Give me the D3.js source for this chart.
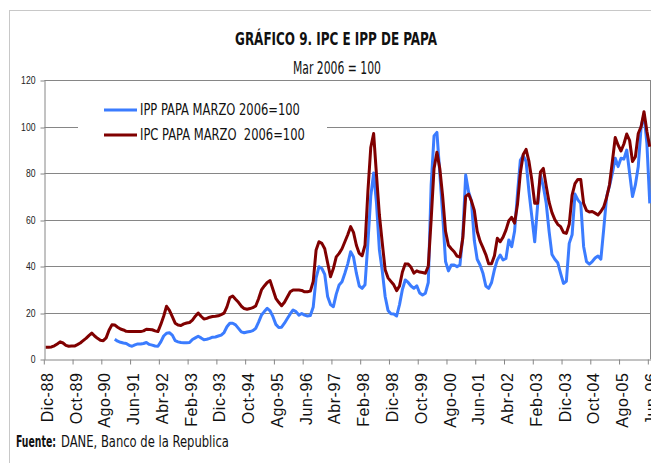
<!DOCTYPE html>
<html>
<head>
<meta charset="utf-8">
<script src="https://cdn.jsdelivr.net/npm/d3@7"></script>
<style>
  body { margin: 0; background: #fff; }
</style>
</head>
<body>
<script>
// months start at Dic-88
const startYear = 1988;
const startMonth = 11;
const monthNames = ['Ene', 'Feb', 'Mar', 'Abr', 'May', 'Jun', 'Jul', 'Ago', 'Sep', 'Oct', 'Nov', 'Dic'];

// IPC papa (Mar 2006 = 100), one value per month
const ipc = [
  5.2,
  5.2, 5.3, 5.8, 6.6, 7.5, 7.0, 6.0, 5.6, 5.7, 5.7, 6.3, 7.0,            // 1989
  8.0, 9.0, 10.2, 11.3, 10.0, 9.0, 8.2, 8.0, 9.2, 12.5, 14.8, 14.7,       // 1990
  13.8, 13.0, 12.6, 12.0, 11.9, 11.9, 11.9, 11.9, 11.9, 12.2, 12.9, 12.8, // 1991
  12.7, 12.2, 11.9, 15.0, 18.5, 22.8, 21.0, 18.3, 15.5, 14.7, 14.5, 15.2, // 1992
  15.6, 15.8, 16.8, 18.5, 19.9, 18.5, 17.3, 17.6, 18.1, 18.4, 18.5, 18.7, // 1993
  19.2, 19.8, 22.5, 26.5, 27.2, 25.8, 24.5, 22.8, 21.8, 21.5, 21.8, 22.2, // 1994
  22.9, 26.0, 29.8, 31.5, 33.0, 33.8, 30.0, 26.2, 24.5, 23.0, 24.5, 26.8, // 1995
  29.0, 29.8, 29.8, 29.8, 29.6, 29.0, 29.0, 29.3, 33.5, 47.0, 50.5, 49.8, // 1996
  47.5, 41.5, 35.5, 39.0, 44.0, 45.5, 47.5, 50.5, 53.5, 57.0, 54.5, 49.0, // 1997
  45.5, 44.5, 49.0, 72.0, 91.0, 97.0, 79.0, 62.0, 50.0, 38.5, 35.0, 33.5, // 1998
  32.0, 29.5, 31.5, 37.5, 41.0, 40.9, 39.5, 37.0, 38.0, 37.5, 37.3, 37.0, // 1999
  40.0, 60.0, 82.0, 89.0, 82.0, 70.0, 55.0, 49.0, 47.5, 46.2, 44.3, 43.9, // 2000
  52.0, 70.0, 71.0, 68.0, 64.0, 55.0, 50.8, 48.0, 45.0, 41.0, 41.0, 44.5, // 2001
  52.0, 50.5, 52.5, 55.5, 59.5, 61.0, 58.5, 66.5, 80.0, 88.0, 90.2, 85.0, // 2002
  77.0, 67.0, 67.0, 80.5, 82.0, 74.5, 67.5, 63.0, 60.0, 58.0, 57.0, 54.5, // 2003
  54.1, 58.0, 70.5, 75.5, 77.3, 77.3, 67.0, 64.0, 63.3, 63.5, 62.8, 62.0, // 2004
  63.5, 65.5, 69.5, 75.0, 85.0, 95.3, 92.0, 89.5, 92.5, 96.8, 94.0, 85.0, // 2005
  87.0, 97.0, 100.0, 106.4, 98.0, 91.3                                    // 2006
];

// IPP papa (Mar 2006 = 100), starts Dic-90
const ipp = Array(24).fill(null).concat([
  8.6,
  7.8, 7.3, 7.0, 6.8, 6.0, 5.6, 6.2, 6.6, 6.6, 6.8, 7.2, 6.4,             // 1991
  6.1, 5.7, 5.6, 7.5, 10.0, 11.2, 11.4, 10.4, 8.0, 7.5, 7.2, 7.1,         // 1992
  7.1, 7.2, 8.5, 9.2, 9.9, 9.2, 8.4, 8.6, 9.0, 9.5, 9.6, 10.0,            // 1993
  10.4, 11.5, 14.0, 15.5, 15.5, 14.8, 13.3, 11.8, 11.4, 11.7, 11.9, 12.3, // 1994
  13.3, 16.0, 19.0, 20.5, 21.9, 20.8, 18.3, 15.0, 13.7, 13.8, 15.5, 17.5, // 1995
  19.5, 21.2, 20.5, 19.0, 19.7, 19.0, 18.6, 18.8, 22.5, 35.0, 39.8, 39.0, // 1996
  36.5, 27.0, 23.5, 22.6, 28.0, 31.9, 33.3, 37.0, 41.0, 46.2, 44.0, 37.0, // 1997
  31.5, 30.5, 32.0, 50.0, 70.0, 80.0, 67.0, 47.0, 38.0, 27.0, 21.0, 19.6, // 1998
  19.5, 18.6, 23.5, 30.0, 34.1, 33.0, 31.5, 30.5, 31.6, 28.5, 27.6, 28.4, // 1999
  33.0, 75.0, 96.0, 97.5, 80.0, 62.0, 42.0, 38.0, 40.5, 40.5, 39.8, 40.5, // 2000
  53.0, 79.2, 72.0, 68.0, 51.0, 43.0, 40.5, 37.0, 31.5, 30.5, 33.0, 38.5, // 2001
  42.7, 44.8, 42.7, 43.3, 51.3, 48.4, 55.0, 71.0, 85.5, 87.5, 85.0, 72.0, // 2002
  61.3, 50.5, 66.0, 79.2, 74.2, 67.0, 55.0, 45.0, 43.0, 41.5, 36.9, 32.6, // 2003
  33.5, 49.8, 53.5, 71.0, 68.5, 67.0, 48.5, 42.0, 40.9, 42.0, 43.5, 44.4, // 2004
  43.0, 56.0, 69.9, 74.5, 80.0, 86.4, 82.8, 86.4, 86.0, 89.9, 79.9, 69.9, // 2005
  74.9, 82.8, 100.0, 105.0, 92.8, 67.0                                    // 2006
]);

const tickLabels = ['Dic-88', 'Oct-89', 'Ago-90', 'Jun-91', 'Abr-92', 'Feb-93', 'Dic-93', 'Oct-94',
  'Ago-95', 'Jun-96', 'Abr-97', 'Feb-98', 'Dic-98', 'Oct-99', 'Ago-00', 'Jun-01', 'Abr-02',
  'Feb-03', 'Dic-03', 'Oct-04', 'Ago-05', 'Jun-06'];
const yTicks = [0, 20, 40, 60, 80, 100, 120];

const seriesNames = ['IPP PAPA MARZO 2006=100', 'IPC PAPA MARZO  2006=100'];

const categories = ipc.map((d, i) => {
  const m = (startMonth + i) % 12;
  const yr = startYear + Math.floor((startMonth + i) / 12);
  return monthNames[m] + '-' + String(yr % 100).padStart(2, '0');
});

// canvas
const width = 651;
const height = 463;
const narrow = "'Liberation Sans Narrow','Arial Narrow','DejaVu Sans Condensed','Liberation Sans',sans-serif";
const plain = "'Liberation Sans',Arial,sans-serif";
const gridColor = '#868686';

const svg = d3.select('body').append('svg')
  .attr('width', width)
  .attr('height', height)
  .style('display', 'block');

// squeeze a text horizontally to a given width, around its anchor x
const fitWidth = (sel, w) => {
  sel.each(function () {
    const node = this;
    const natural = node.getComputedTextLength();
    if (!natural) return;
    const ax = +node.getAttribute('x') || 0;
    const s = w / natural;
    node.setAttribute('transform', `translate(${ax},0) scale(${s},1) translate(${-ax},0)`);
  });
};

// outer frame
svg.append('rect')
  .attr('x', 9.5).attr('y', 10.5)
  .attr('width', 700).attr('height', 500)
  .attr('fill', '#fff')
  .attr('stroke', '#c8c8c8');

const plot = { left: 44.3, right: 651.2, top: 80, bottom: 359.3 };

const x = d3.scaleBand()
  .domain(categories)
  .range([plot.left, plot.right])
  .paddingInner(0)
  .paddingOuter(0);
const bw = x.bandwidth();

const y = d3.scaleLinear()
  .domain([0, 120])
  .range([plot.bottom, plot.top]);

// gridlines
svg.append('g')
  .selectAll('line')
  .data(yTicks.slice(1))
  .enter()
  .append('line')
  .attr('x1', plot.left)
  .attr('x2', 650.5)
  .attr('y1', (d) => Math.round(y(d)) + 0.5)
  .attr('y2', (d) => Math.round(y(d)) + 0.5)
  .attr('stroke', gridColor)
  .attr('stroke-width', 1);

// right border of plot area
svg.append('line')
  .attr('x1', 650.5).attr('x2', 650.5)
  .attr('y1', y(120)).attr('y2', y(0))
  .attr('stroke', gridColor);

// y axis
const yAxis = svg.append('g')
  .attr('transform', `translate(${Math.round(plot.left) + 0.5},0)`)
  .call(d3.axisLeft(y).tickValues(yTicks).tickSize(4).tickSizeOuter(0));
yAxis.select('.domain').attr('stroke', gridColor);
yAxis.selectAll('.tick line').attr('stroke', gridColor)
  .attr('transform', (d) => `translate(0,${Math.round(y(d)) + 0.5 - y(d)})`);
yAxis.selectAll('.tick text')
  .attr('x', -9)
  .attr('font-family', plain)
  .attr('font-size', 11)
  .attr('fill', '#222')
  .each(function (d) { fitWidth(d3.select(this), String(d).length * 4.8); });

// x axis
const xAxis = svg.append('g')
  .attr('transform', `translate(0,${Math.round(plot.bottom) + 0.5})`)
  .call(d3.axisBottom(x).tickValues(tickLabels.filter((t) => categories.includes(t))).tickSize(5).tickSizeOuter(0));
xAxis.select('.domain').attr('stroke', gridColor);
xAxis.selectAll('.tick line')
  .attr('stroke', gridColor)
  .attr('x1', -bw / 2).attr('x2', -bw / 2);
xAxis.selectAll('.tick text')
  .attr('transform', 'translate(1.5,13) rotate(-90)')
  .attr('x', 0)
  .attr('y', 0)
  .attr('dy', '0.35em')
  .attr('text-anchor', 'end')
  .attr('font-family', plain)
  .attr('font-size', 16)
  .attr('letter-spacing', '0.6px')
  .attr('fill', '#111');

// lines
const line = d3.line()
  .defined((d) => d != null)
  .x((d, i) => x(categories[i]) + bw / 2)
  .y((d) => y(d));

svg.append('path')
  .datum(ipp)
  .attr('fill', 'none')
  .attr('stroke', '#3b7cff')
  .attr('stroke-width', 3)
  .attr('stroke-linejoin', 'round')
  .attr('d', line);

svg.append('path')
  .datum(ipc)
  .attr('fill', 'none')
  .attr('stroke', '#800000')
  .attr('stroke-width', 3)
  .attr('stroke-linejoin', 'round')
  .attr('d', line);

// legend
const legend = svg.append('g');
legend.append('rect')
  .attr('x', 78).attr('y', 94)
  .attr('width', 249).attr('height', 54)
  .attr('fill', '#fff');
const legendItems = [
  { name: seriesNames[0], color: '#3b7cff', y: 110, len: 160 },
  { name: seriesNames[1], color: '#800000', y: 135, len: 165 },
];
legendItems.forEach((d) => {
  legend.append('line')
    .attr('x1', 104).attr('x2', 137)
    .attr('y1', d.y).attr('y2', d.y)
    .attr('stroke', d.color)
    .attr('stroke-width', 3);
  legend.append('text')
    .attr('x', 140)
    .attr('y', d.y + 5)
    .attr('font-family', narrow)
    .attr('font-size', 15)
    .style('white-space', 'pre')
    .attr('fill', '#111')
    .text(d.name)
    .call(fitWidth, d.len);
});

// titles
svg.append('text')
  .attr('x', 336).attr('y', 45)
  .attr('text-anchor', 'middle')
  .attr('font-family', narrow)
  .attr('font-weight', 'bold')
  .attr('font-size', 18)
  .attr('fill', '#111')
  .text('GRÁFICO 9. IPC E IPP DE PAPA')
  .call(fitWidth, 202);

svg.append('text')
  .attr('x', 337).attr('y', 74)
  .attr('text-anchor', 'middle')
  .attr('font-family', narrow)
  .attr('font-size', 18)
  .attr('fill', '#111')
  .text('Mar 2006 = 100')
  .call(fitWidth, 88);

// source
svg.append('text')
  .attr('x', 16).attr('y', 447)
  .attr('font-family', narrow)
  .attr('font-weight', 'bold')
  .attr('font-size', 15)
  .attr('fill', '#111')
  .text('Fuente:')
  .call(fitWidth, 40);
svg.append('text')
  .attr('x', 61).attr('y', 447)
  .attr('font-family', narrow)
  .attr('font-size', 15)
  .attr('fill', '#111')
  .text('DANE, Banco de la Republica')
  .call(fitWidth, 168);
</script>
</body>
</html>
